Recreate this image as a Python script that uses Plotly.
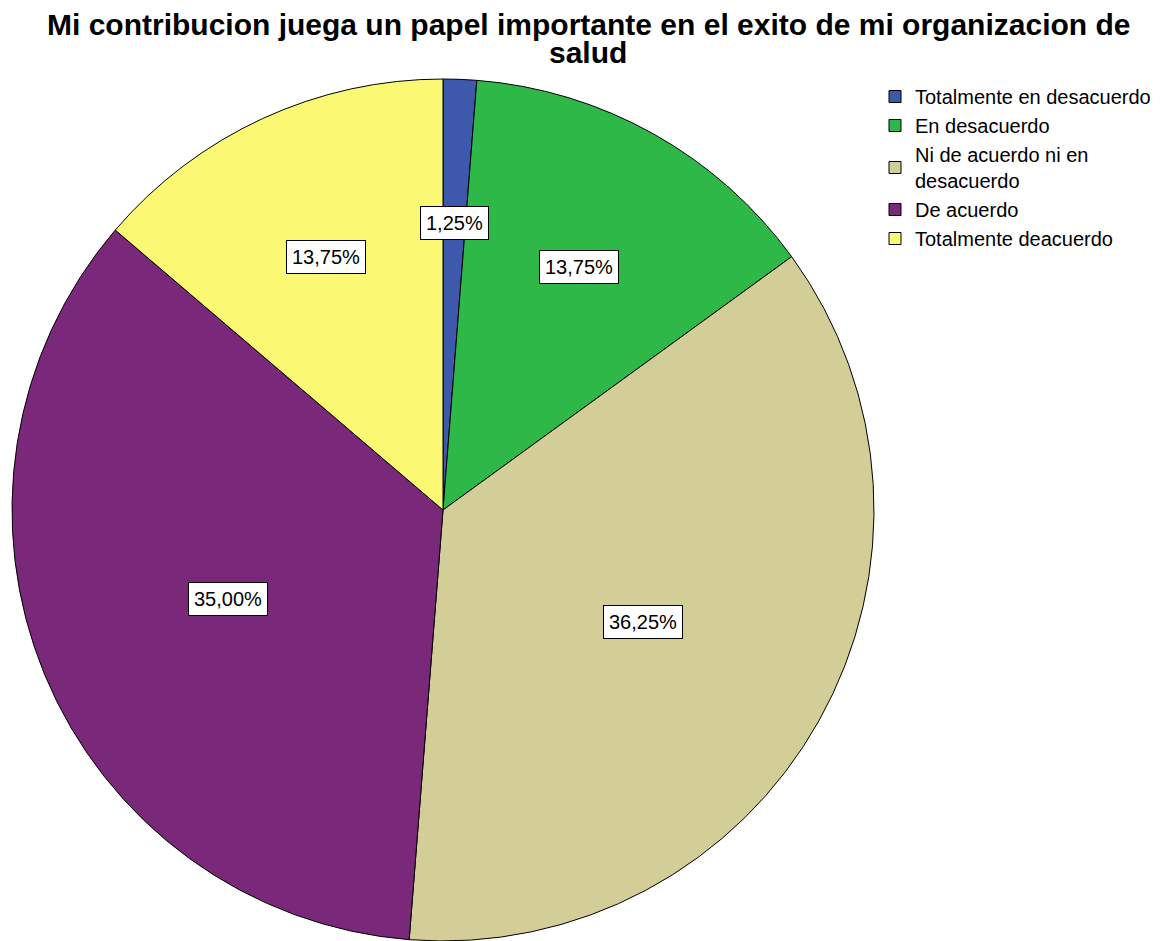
import math
import plotly.graph_objects as go

labels = ["Totalmente en desacuerdo", "En desacuerdo", "Ni de acuerdo ni en<br>desacuerdo",
          "De acuerdo", "Totalmente deacuerdo"]
values = [1.25, 13.75, 36.25, 35.00, 13.75]
colors = ["#3E58AC", "#2EB848", "#D3CE97", "#79287A", "#FBF873"]
title_lines = ["Mi contribucion juega un papel importante en el exito de mi organizacion de", "salud"]

# the page body has an 8px default margin, so the figure is drawn 8px in from the window edge
W, H = 1160, 933
FONT = "Arial, Liberation Sans, sans-serif"

# where the pie should sit (figure pixels from top-left) and its radius
PIE_CX, PIE_CY, PIE_R = 435, 502, 431
dom_x = [(PIE_CX - PIE_R) / W, (PIE_CX + PIE_R) / W]
dom_y = [1 - (PIE_CY + PIE_R) / H, 1 - (PIE_CY - PIE_R) / H]

fig = go.Figure()
fig.add_trace(go.Pie(
    labels=labels,
    values=values,
    marker=dict(colors=colors, line=dict(color="black", width=1)),
    sort=False,
    direction="clockwise",
    rotation=0,
    textinfo="none",
    hoverinfo="label+percent",
    domain=dict(x=dom_x, y=dom_y),
))

# value labels at slice centroids, boxed like SPSS
total = sum(values)
start = 0.0
for v in values:
    half = math.pi * v / total
    mid = start + half
    dist = 2 * PIE_R * math.sin(half) / (3 * half)
    px = PIE_CX + dist * math.sin(mid)
    py = PIE_CY - dist * math.cos(mid)
    fig.add_annotation(
        x=px / W, y=1 - py / H, xref="paper", yref="paper",
        xanchor="center", yanchor="middle",
        text=f"{v:.2f}".replace(".", ",") + "%",
        showarrow=False,
        font=dict(family=FONT, size=20, color="black"),
        bgcolor="white", bordercolor="black", borderwidth=1, borderpad=5,
    )
    start += 2 * half

# title, two lines with tight spacing
for i, line in enumerate(title_lines):
    fig.add_annotation(
        x=0.5, y=1 - (17 + 28 * i) / H, xref="paper", yref="paper",
        xanchor="center", yanchor="middle",
        text=f"<b>{line}</b>", showarrow=False,
        font=dict(family=FONT, size=30, color="black"),
    )

fig.update_layout(
    width=W, height=H,
    margin=dict(l=0, r=0, t=0, b=0, autoexpand=False),
    paper_bgcolor="white",
    legend=dict(
        x=867 / W, y=1 - 69 / H, xanchor="left", yanchor="top",
        font=dict(family=FONT, size=20, color="black"),
        tracegroupgap=0, itemwidth=30,
        bgcolor="rgba(0,0,0,0)",
    ),
    showlegend=True,
)

fig.write_html("out.html")
